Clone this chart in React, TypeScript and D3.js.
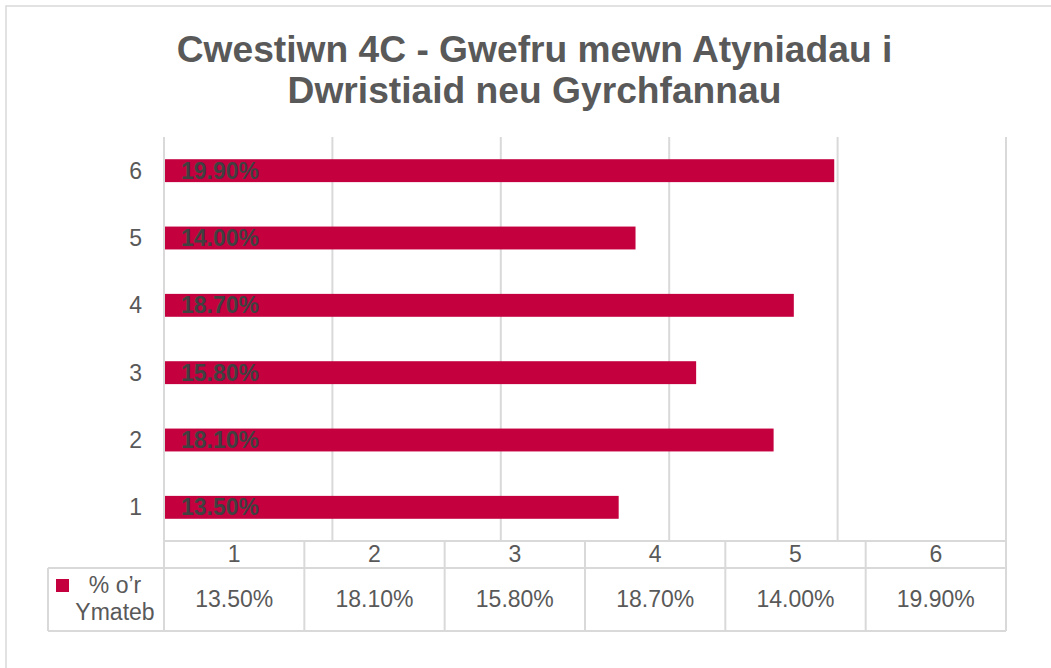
import React from 'react';
import { scaleLinear, scaleBand } from 'd3';

// values (per cent)
const categories = ['1', '2', '3', '4', '5', '6'];
const responses = [13.5, 18.1, 15.8, 18.7, 14.0, 19.9];
const valueTicks = [0, 5, 10, 15, 20, 25];
const seriesName = ['% o\u2019r', 'Ymateb'];
const titleLines = ['Cwestiwn 4C - Gwefru mewn Atyniadau i', 'Dwristiaid neu Gyrchfannau'];

const W = 1051;
const H = 668;
const FONT = '"Liberation Sans", Arial, sans-serif';
const GRID = '#d9d9d9';
const BAR = '#c4003f';
const TEXT = '#595959';

const plot = { left: 164, right: 1006, top: 137, bottom: 541 };
const table = { headerBottom: 568, bottom: 631, legendLeft: 48 };

const fmt = (v: number) => v.toFixed(2) + '%';

export default function App() {
  const x = scaleLinear().domain([0, 25]).range([plot.left, plot.right]);
  // bars run bottom to top: category 1 at the bottom
  const y = scaleBand<string>()
    .domain([...categories].reverse())
    .range([plot.top, plot.bottom])
    .paddingInner(0.66)
    .paddingOuter(0.33);
  // table columns share the plot width
  const col = scaleBand<string>().domain(categories).range([plot.left, plot.right]);

  return (
    <svg
      width={W}
      height={H}
      style={{ position: 'absolute', left: 0, top: 0, display: 'block', background: '#fff' }}
      fontFamily={FONT}
    >
      <rect x={6} y={6} width={W + 50} height={H + 50} fill="#fff" stroke={GRID} strokeWidth={1.5} />

      {/* title */}
      {titleLines.map((t, i) => (
        <text
          key={t}
          x={534.5}
          y={62 + i * 41}
          textAnchor="middle"
          fontSize={37.2}
          fontWeight="bold"
          fill={TEXT}
        >
          {t}
        </text>
      ))}

      {/* vertical gridlines */}
      <g className="grid">
        {valueTicks.map(t => (
          <line
            key={t}
            x1={x(t)}
            x2={x(t)}
            y1={plot.top}
            y2={t === 0 ? table.bottom : plot.bottom}
            stroke={GRID}
            strokeWidth={2}
          />
        ))}
      </g>

      {/* bars */}
      <g className="bars">
        {categories.map((c, i) => (
          <g key={c}>
            <rect
              x={x(0) + 1}
              y={y(c)}
              width={x(responses[i]) - x(0) - 1}
              height={y.bandwidth()}
              fill={BAR}
            />
            <text
              x={x(0) + 17}
              y={(y(c) as number) + y.bandwidth() / 2 + 8}
              fontSize={23}
              fontWeight="bold"
              fill="#404040"
            >
              {fmt(responses[i])}
            </text>
            <text
              x={plot.left - 22}
              y={(y(c) as number) + y.bandwidth() / 2 + 8}
              textAnchor="end"
              fontSize={23}
              fill={TEXT}
            >
              {c}
            </text>
          </g>
        ))}
      </g>

      {/* data table */}
      <g className="table" stroke={GRID} strokeWidth={2}>
        <line x1={plot.left} x2={plot.right} y1={plot.bottom} y2={plot.bottom} />
        <line x1={table.legendLeft} x2={plot.right} y1={table.headerBottom} y2={table.headerBottom} />
        <line x1={table.legendLeft} x2={plot.right} y1={table.bottom} y2={table.bottom} />
        <line x1={table.legendLeft} x2={table.legendLeft} y1={table.headerBottom} y2={table.bottom} />
        {categories.map(c => (
          <line
            key={c}
            x1={(col(c) as number) + col.bandwidth()}
            x2={(col(c) as number) + col.bandwidth()}
            y1={plot.bottom}
            y2={table.bottom}
          />
        ))}
      </g>
      <g className="table-text" fontSize={23} fill={TEXT} textAnchor="middle">
        {categories.map((c, i) => {
          const cx = (col(c) as number) + col.bandwidth() / 2;
          return (
            <g key={c}>
              <text x={cx} y={562}>{c}</text>
              <text x={cx} y={607}>{fmt(responses[i])}</text>
            </g>
          );
        })}
        <rect x={56} y={579} width={13} height={13} fill={BAR} />
        {seriesName.map((s, i) => (
          <text key={s} x={115} y={593 + i * 27}>{s}</text>
        ))}
      </g>
    </svg>
  );
}
